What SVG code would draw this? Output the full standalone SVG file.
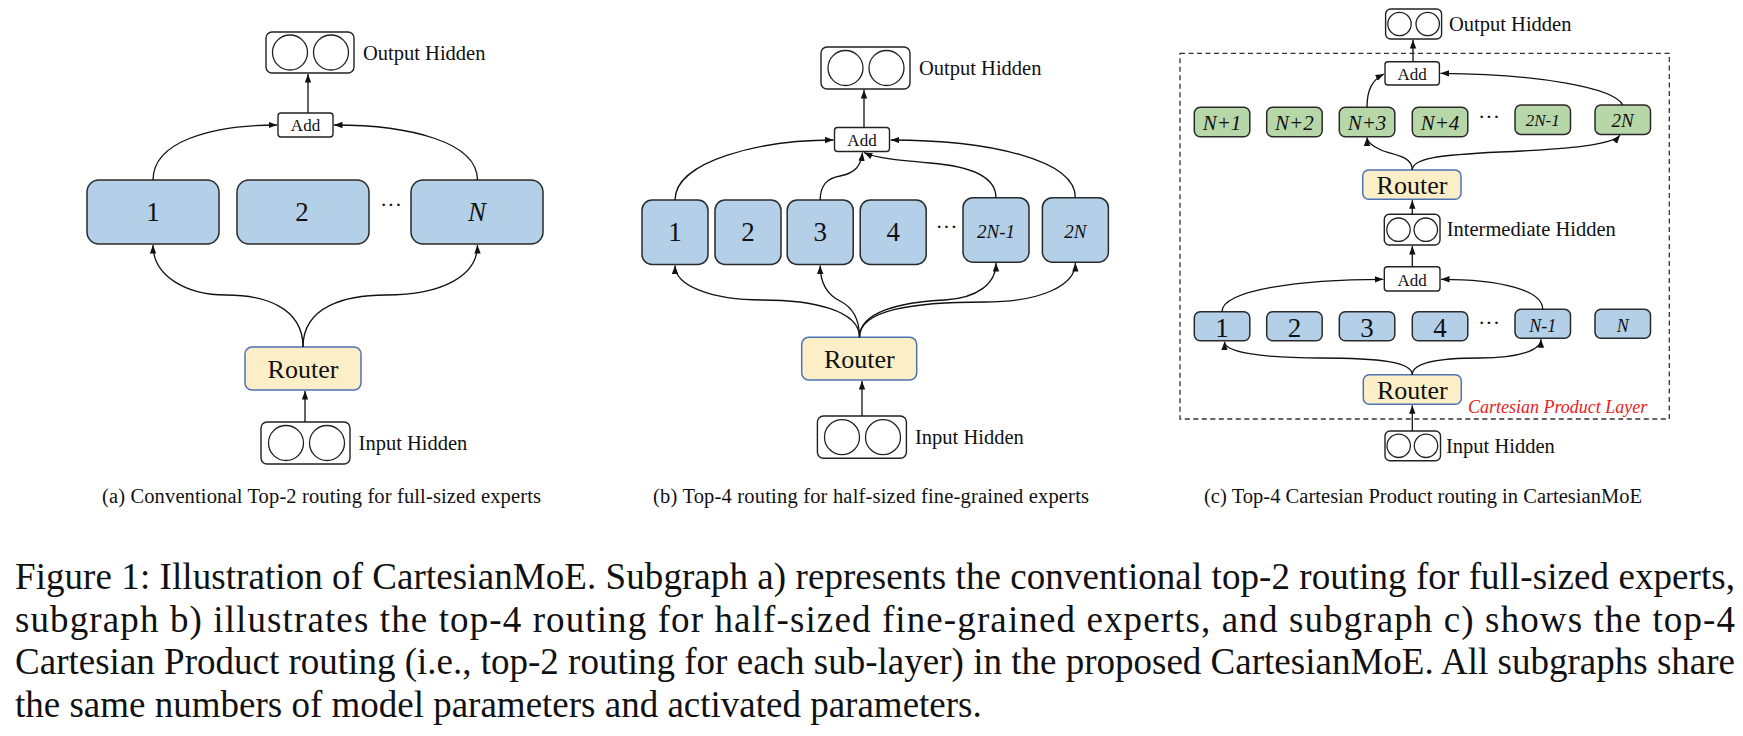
<svg xmlns="http://www.w3.org/2000/svg" width="1743" height="736" viewBox="0 0 1743 736">
<defs>
<marker id="ah" markerUnits="userSpaceOnUse" markerWidth="9" markerHeight="7" refX="8.5" refY="3.2" orient="auto">
<path d="M0,0 L8.5,3.2 L0,6.4 z" fill="#111"/>
</marker>
</defs>
<style>
text{font-family:"Liberation Serif","Times New Roman",serif;fill:#111}
.hid{fill:#fff;stroke:#222;stroke-width:1.4}
.cir{fill:#fff;stroke:#222;stroke-width:1.3}
.add{fill:#fff;stroke:#222;stroke-width:1.4}
.exp{fill:#b4cfe8;stroke:#2a2a2a;stroke-width:1.5}
.gexp{fill:#b8d7a9;stroke:#2a2a2a;stroke-width:1.5}
.rtr{fill:#fcefc8;stroke:#4e73b5;stroke-width:1.5}
.lbl{font-size:20.5px}
.addt{font-size:17px;text-anchor:middle}
.rt{font-size:26px;text-anchor:middle}
.num{font-size:27px;text-anchor:middle}
.it{font-style:italic;text-anchor:middle}
.dots{font-size:22px;text-anchor:middle}
.cap{font-size:20.5px}
.main{font-size:37px}
.conn path{fill:none;stroke:#111;stroke-width:1.3;marker-end:url(#ah)}
</style>
<rect width="1743" height="736" fill="#fff"/>

<!-- ===== Panel (a) ===== -->
<g id="a-output-hidden">
<rect class="hid" x="266" y="32" width="88" height="41" rx="6"/>
<circle class="cir" cx="290" cy="52.5" r="17.5"/>
<circle class="cir" cx="331" cy="52.5" r="17.5"/>
<text class="lbl" x="363" y="60">Output Hidden</text>
</g>
<g id="a-add">
<rect class="add" x="278" y="113" width="55" height="24" rx="3"/>
<text class="addt" x="305.5" y="131">Add</text>
</g>
<g id="a-expert-1">
<rect class="exp" x="87" y="180" width="132" height="64" rx="12"/>
<text class="num" x="153" y="221">1</text>
</g>
<g id="a-expert-2">
<rect class="exp" x="237" y="180" width="132" height="64" rx="12"/>
<text class="num" x="302" y="221">2</text>
</g>
<g id="a-dots"><text class="dots" x="391" y="212">···</text></g>
<g id="a-expert-N">
<rect class="exp" x="411" y="180" width="132" height="64" rx="12"/>
<text class="num it" x="477" y="221">N</text>
</g>
<g id="a-router">
<rect class="rtr" x="245" y="347" width="116" height="43" rx="7"/>
<text class="rt" x="303" y="378">Router</text>
</g>
<g id="a-input-hidden">
<rect class="hid" x="261" y="422" width="89" height="42" rx="6"/>
<circle class="cir" cx="286" cy="443" r="17.5"/>
<circle class="cir" cx="327" cy="443" r="17.5"/>
<text class="lbl" x="358.6" y="450">Input Hidden</text>
</g>
<g id="a-caption"><text class="cap" x="102" y="503" textLength="439">(a)  Conventional Top-2 routing for full-sized experts</text></g>

<!-- ===== Panel (b) ===== -->
<g id="b-output-hidden">
<rect class="hid" x="821" y="47" width="89" height="42" rx="6"/>
<circle class="cir" cx="845.5" cy="68" r="17.5"/>
<circle class="cir" cx="886.5" cy="68" r="17.5"/>
<text class="lbl" x="919" y="75">Output Hidden</text>
</g>
<g id="b-add">
<rect class="add" x="834.5" y="127.5" width="55" height="24" rx="3"/>
<text class="addt" x="862" y="145.5">Add</text>
</g>
<g id="b-expert-1">
<rect class="exp" x="642" y="200" width="66" height="64.5" rx="10"/>
<text class="num" x="675" y="241">1</text>
</g>
<g id="b-expert-2">
<rect class="exp" x="715" y="200" width="66" height="64.5" rx="10"/>
<text class="num" x="748" y="241">2</text>
</g>
<g id="b-expert-3">
<rect class="exp" x="787.2" y="200" width="66" height="64.5" rx="10"/>
<text class="num" x="820.2" y="241">3</text>
</g>
<g id="b-expert-4">
<rect class="exp" x="860.2" y="200" width="66" height="64.5" rx="10"/>
<text class="num" x="893.2" y="241">4</text>
</g>
<g id="b-dots"><text class="dots" x="946.5" y="234">···</text></g>
<g id="b-expert-2N-1">
<rect class="exp" x="963" y="197.7" width="66" height="64.5" rx="10"/>
<text class="it" x="996" y="237.5" font-size="19">2N-1</text>
</g>
<g id="b-expert-2N">
<rect class="exp" x="1042.4" y="197.7" width="66" height="64.5" rx="10"/>
<text class="it" x="1075.4" y="237.5" font-size="19">2N</text>
</g>
<g id="b-router">
<rect class="rtr" x="801.7" y="337.3" width="115" height="42.7" rx="7"/>
<text class="rt" x="859.3" y="368">Router</text>
</g>
<g id="b-input-hidden">
<rect class="hid" x="817.4" y="416" width="89" height="42.3" rx="6"/>
<circle class="cir" cx="842" cy="437.2" r="17.5"/>
<circle class="cir" cx="883" cy="437.2" r="17.5"/>
<text class="lbl" x="915" y="443.5">Input Hidden</text>
</g>
<g id="b-caption"><text class="cap" x="653" y="503" textLength="436">(b)  Top-4 routing for half-sized fine-grained experts</text></g>

<!-- ===== Panel (c) ===== -->
<g id="c-layer-frame">
<rect x="1180" y="53.3" width="489.3" height="365.7" fill="none" stroke="#333" stroke-width="1.3" stroke-dasharray="5,3.5"/>
<text x="1468" y="412.7" font-size="18" font-style="italic" style="fill:#e8211e">Cartesian Product Layer</text>
</g>
<g id="c-output-hidden">
<rect class="hid" x="1385.6" y="9" width="56" height="30" rx="5"/>
<circle class="cir" cx="1399.5" cy="24" r="11.7"/>
<circle class="cir" cx="1427.7" cy="24" r="11.7"/>
<text class="lbl" x="1449" y="31">Output Hidden</text>
</g>
<g id="c-add-upper">
<rect class="add" x="1385" y="61.7" width="54.4" height="23.3" rx="3"/>
<text class="addt" x="1412.2" y="79.5">Add</text>
</g>
<g id="c-expert-N+1">
<rect class="gexp" x="1194.3" y="107.3" width="55.5" height="29.4" rx="6"/>
<text class="it" x="1222" y="130" font-size="21">N+1</text>
</g>
<g id="c-expert-N+2">
<rect class="gexp" x="1266.7" y="107.3" width="55.5" height="29.4" rx="6"/>
<text class="it" x="1294.4" y="130" font-size="21">N+2</text>
</g>
<g id="c-expert-N+3">
<rect class="gexp" x="1339.3" y="107.3" width="55.5" height="29.4" rx="6"/>
<text class="it" x="1367" y="130" font-size="21">N+3</text>
</g>
<g id="c-expert-N+4">
<rect class="gexp" x="1412.3" y="107.3" width="55.5" height="29.4" rx="6"/>
<text class="it" x="1440" y="130" font-size="21">N+4</text>
</g>
<g id="c-dots-upper"><text class="dots" x="1489" y="124" font-size="20">···</text></g>
<g id="c-expert-2N-1">
<rect class="gexp" x="1515" y="105" width="55.5" height="29.4" rx="6"/>
<text class="it" x="1542.7" y="125.5" font-size="17">2N-1</text>
</g>
<g id="c-expert-2N">
<rect class="gexp" x="1595" y="105" width="55.5" height="29.4" rx="6"/>
<text class="it" x="1622.7" y="126.5" font-size="19">2N</text>
</g>
<g id="c-router-upper">
<rect class="rtr" x="1362.7" y="170" width="98.3" height="29.3" rx="6"/>
<text class="rt" x="1412" y="194" font-size="25">Router</text>
</g>
<g id="c-intermediate-hidden">
<rect class="hid" x="1384.3" y="214.3" width="55.7" height="30.7" rx="5"/>
<circle class="cir" cx="1398.5" cy="229.7" r="11.7"/>
<circle class="cir" cx="1425.8" cy="229.7" r="11.7"/>
<text class="lbl" x="1446.7" y="236">Intermediate Hidden</text>
</g>
<g id="c-add-lower">
<rect class="add" x="1384.3" y="266.7" width="55.7" height="24.3" rx="3"/>
<text class="addt" x="1412.2" y="285.5">Add</text>
</g>
<g id="c-expert-1">
<rect class="exp" x="1194.3" y="311.7" width="55.5" height="29" rx="6"/>
<text class="num" x="1222" y="336.5" font-size="28">1</text>
</g>
<g id="c-expert-2">
<rect class="exp" x="1266.7" y="311.7" width="55.5" height="29" rx="6"/>
<text class="num" x="1294.4" y="336.5" font-size="28">2</text>
</g>
<g id="c-expert-3">
<rect class="exp" x="1339.3" y="311.7" width="55.5" height="29" rx="6"/>
<text class="num" x="1367" y="336.5" font-size="28">3</text>
</g>
<g id="c-expert-4">
<rect class="exp" x="1412.3" y="311.7" width="55.5" height="29" rx="6"/>
<text class="num" x="1440" y="336.5" font-size="28">4</text>
</g>
<g id="c-dots-lower"><text class="dots" x="1489" y="330" font-size="20">···</text></g>
<g id="c-expert-N-1">
<rect class="exp" x="1515" y="309.3" width="55.5" height="29" rx="6"/>
<text class="it" x="1542.7" y="331.5" font-size="18">N-1</text>
</g>
<g id="c-expert-N">
<rect class="exp" x="1595" y="309.3" width="55.5" height="29" rx="6"/>
<text class="it" x="1622.7" y="331.5" font-size="18">N</text>
</g>
<g id="c-router-lower">
<rect class="rtr" x="1363.3" y="374.7" width="98" height="29.6" rx="6"/>
<text class="rt" x="1412.3" y="398.5" font-size="25">Router</text>
</g>
<g id="c-input-hidden">
<rect class="hid" x="1385" y="431" width="55.5" height="29.7" rx="5"/>
<circle class="cir" cx="1398.7" cy="445.8" r="11.7"/>
<circle class="cir" cx="1426" cy="445.8" r="11.7"/>
<text class="lbl" x="1446" y="453">Input Hidden</text>
</g>
<g id="c-caption"><text class="cap" x="1204" y="503" textLength="438">(c)  Top-4 Cartesian Product routing in CartesianMoE</text></g>

<!-- ===== Connectors ===== -->
<g id="connectors" class="conn">
<!-- (a) -->
<path d="M308,113 L308,74"/>
<path d="M153,180 C153,142 210,125 277,125"/>
<path d="M477.5,180 C477.5,142 410,125 334,125"/>
<path d="M303,347 C303,306 262,295 226,295 C186,295 153,276 153,245"/>
<path d="M303,347 C303,306 346,295 386,295 C442,295 477.5,276 477.5,245"/>
<path d="M305,422 L305,391"/>
<!-- (b) -->
<path d="M864,127.5 L864,90"/>
<path d="M675,200 C675,161 760,140 833.5,140"/>
<path d="M1075.4,197.7 C1075.4,160 990,140 890.7,140"/>
<path d="M820.2,200 C820.2,184 828,178 840,176 C855,173 861,166 862.5,152.5"/>
<path d="M996,197.7 C996,176 968,166 930,163 C895,160 876,158 864,152.5"/>
<path d="M859.5,337.3 C859.5,310 812,300 762,300 C712,300 675,286 675,265.5"/>
<path d="M859.5,337.3 C859.5,315 850,306 840,301 C826,294 820.2,282 820.2,265.5"/>
<path d="M859.5,337.3 C859.5,312 900,302 945,300 C977,298 996,284 996,263"/>
<path d="M859.5,337.3 C859.5,310 912,302 985,302 C1042,302 1075.4,285 1075.4,263"/>
<path d="M862,416 L862,381"/>
<!-- (c) -->
<path d="M1413,61.7 L1413,40"/>
<path d="M1367,107.3 C1367,90 1372,80 1384,74"/>
<path d="M1622.7,105 C1615,88 1540,74 1440.5,73.3"/>
<path d="M1412.3,170 C1412.3,155 1392,155 1381,150 C1372,146 1367,142 1367,137.5"/>
<path d="M1412.3,170 C1412.3,158 1440,155 1500,152 C1570,149 1612,145 1620,135.2"/>
<path d="M1412.3,214.3 L1412.3,200.3"/>
<path d="M1412.3,266.7 L1412.3,246"/>
<path d="M1222,311.7 C1222,290 1300,279.3 1383.3,279.3"/>
<path d="M1542.7,309.3 C1542.7,290 1500,279.3 1441,279.3"/>
<path d="M1412.3,374.7 C1412.3,362 1380,358 1320,358 C1260,358 1224.5,352 1224.5,341.7"/>
<path d="M1412.3,374.7 C1412.3,362 1440,358 1480,358 C1520,358 1541,350 1541,339.3"/>
<path d="M1412.3,431 L1412.3,405.3"/>
</g>

<!-- ===== Figure caption ===== -->
<g id="figure-caption">
<text class="main" x="15" y="589" textLength="1720">Figure 1: Illustration of CartesianMoE. Subgraph a) represents the conventional top-2 routing for full-sized experts,</text>
<text class="main" x="15" y="631.5" textLength="1720">subgraph b) illustrates the top-4 routing for half-sized fine-grained experts, and subgraph c) shows the top-4</text>
<text class="main" x="15" y="674" textLength="1720">Cartesian Product routing (i.e., top-2 routing for each sub-layer) in the proposed CartesianMoE. All subgraphs share</text>
<text class="main" x="15" y="716.5">the same numbers of model parameters and activated parameters.</text>
</g>
</svg>
